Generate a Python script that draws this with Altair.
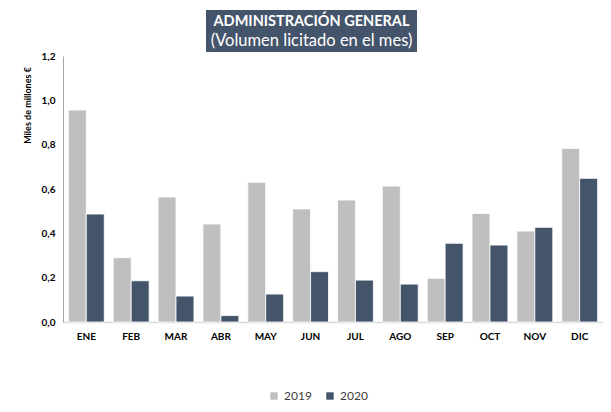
import altair as alt
import pandas as pd

months = ["ENE", "FEB", "MAR", "ABR", "MAY", "JUN", "JUL", "AGO", "SEP", "OCT", "NOV", "DIC"]
v2019 = [0.956, 0.290, 0.564, 0.442, 0.630, 0.510, 0.550, 0.613, 0.197, 0.490, 0.410, 0.783]
v2020 = [0.487, 0.186, 0.117, 0.029, 0.126, 0.227, 0.189, 0.171, 0.355, 0.347, 0.427, 0.648]
years = ["2019", "2020"]
colors = ["#BFBFBF", "#44546A"]
title_lines = ["ADMINISTRACIÓN GENERAL", "(Volumen licitado en el mes)"]
y_title = "Miles de millones €"

rows = []
for m, a, b in zip(months, v2019, v2020):
    rows.append({"mes": m, "año": years[0], "valor": a})
    rows.append({"mes": m, "año": years[1], "valor": b})
df = pd.DataFrame(rows)

FONT = "Lato"
W, H = 540, 266

bars = alt.Chart(df).mark_bar(stroke="white", strokeWidth=0.8).encode(
    x=alt.X("mes:N", sort=months, title=None,
            scale=alt.Scale(paddingInner=0.2, paddingOuter=0.12),
            axis=alt.Axis(labelAngle=0, labelFont=FONT, labelFontWeight="bold",
                          labelFontSize=10, labelColor="#000000", labelPadding=9,
                          ticks=False, domainColor="#D9D9D9", domainWidth=1.5)),
    xOffset=alt.XOffset("año:N", sort=years,
                        scale=alt.Scale(paddingInner=0, paddingOuter=0)),
    y=alt.Y("valor:Q", scale=alt.Scale(domain=[0, 1.2]),
            axis=alt.Axis(values=[0, 0.2, 0.4, 0.6, 0.8, 1.0, 1.2],
                          labelExpr="replace(format(datum.value, '.1f'), '.', ',')",
                          labelFont=FONT, labelFontWeight="bold", labelFontSize=10,
                          labelColor="#000000", labelPadding=8, ticks=False,
                          grid=False, domainColor="#A6A6A6", domainWidth=1,
                          title=y_title, titleFont=FONT, titleFontSize=9,
                          titleFontWeight="bold", titleColor="#000000",
                          titleAngle=-90, titleX=-36, titleY=49,
                          titleAlign="center", titleBaseline="middle")),
    color=alt.Color("año:N", sort=years,
                    scale=alt.Scale(domain=years, range=colors),
                    legend=alt.Legend(title=None, orient="none", direction="horizontal",
                                      legendX=205, legendY=334, symbolType="square",
                                      symbolSize=55, symbolStrokeWidth=0,
                                      labelFont=FONT, labelFontSize=12,
                                      labelColor="#404040", columnPadding=12,
                                      labelOffset=4)),
)

one = pd.DataFrame({"k": [0]})
title_box = alt.Chart(one).mark_rect(color="#44546A").encode(
    x=alt.value(143), x2=alt.value(354), y=alt.value(-46), y2=alt.value(-4)
)
t1 = alt.Chart(one).mark_text(text=title_lines[0], font=FONT, fontSize=14.5,
                              fontWeight="bold", color="white", align="center",
                              baseline="middle").encode(x=alt.value(248.5), y=alt.value(-34))
t2 = alt.Chart(one).mark_text(text=title_lines[1], font=FONT, fontSize=16.5,
                              color="white", align="center",
                              baseline="middle").encode(x=alt.value(248.5), y=alt.value(-15))
border_top = alt.Chart(one).mark_rule(color="#D9D9D9", strokeWidth=1.5).encode(
    x=alt.value(-58), x2=alt.value(560), y=alt.value(-52)
)
border_left = alt.Chart(one).mark_rule(color="#D9D9D9", strokeWidth=1.5).encode(
    x=alt.value(-58), y=alt.value(-52), y2=alt.value(360)
)

chart = alt.layer(border_top, border_left, bars, title_box, t1, t2).properties(
    width=W, height=H,
    autosize=alt.AutoSizeParams(type="none"),
    padding={"left": 55, "top": 48, "right": 0, "bottom": 82},
    background="white",
).configure_view(stroke=None)

chart.save("out.html", embed_options={"renderer": "svg", "actions": False})
